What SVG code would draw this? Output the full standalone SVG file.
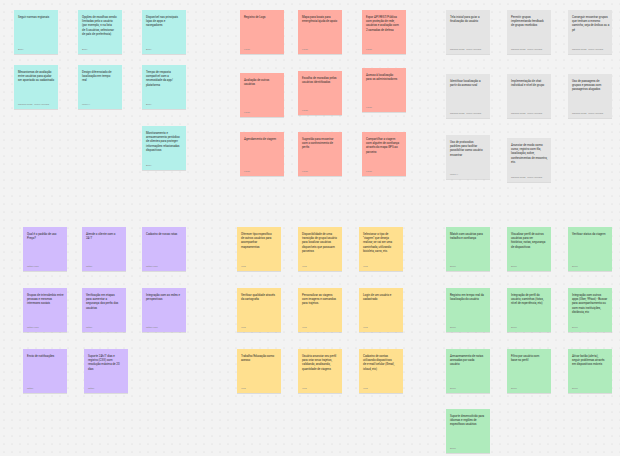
<svg xmlns="http://www.w3.org/2000/svg" width="620" height="456" viewBox="0 0 620 456">
  <style>
    .n { stroke: none; filter: url(#lift); }
    .cy { fill: #b3f0ea; }
    .rd { fill: #ffaca1; }
    .gy { fill: #e4e4e4; }
    .pu { fill: #d1bbfd; }
    .ye { fill: #ffe08f; }
    .gr { fill: #afebbc; }
    .t { font-family: Roboto, "Liberation Sans", sans-serif; font-size: 2.9px; fill: #2a2a2a; }
    .a { font-family: Roboto, "Liberation Sans", sans-serif; font-size: 2.2px; fill: #8a8a8a; }
  </style>
  <defs>
    <pattern id="dots" width="8" height="8" patternUnits="userSpaceOnUse">
      <circle cx="4" cy="4" r="0.6" fill="#d3d3d3"/>
    </pattern>
    <filter id="lift" x="-10%" y="-10%" width="120%" height="130%">
      <feDropShadow dx="0" dy="0.8" stdDeviation="0.6" flood-color="#000" flood-opacity="0.12"/>
    </filter>
  </defs>

  <!-- board -->
  <rect width="620" height="456" fill="#f3f3f3"/>
  <rect width="620" height="456" fill="url(#dots)"/>

  <!-- connectors: none on this board -->
  <g id="connectors"></g>

  <!-- cyan cluster -->
  <g id="cy1" transform="translate(14,10)"><rect class="n cy" width="44" height="44"/>
    <text class="t"><tspan x="4" y="7.5">Seguir normas regionais</tspan></text>
    <text class="a" x="4" y="40">Ana L.</text></g>
  <g id="cy2" transform="translate(78,10)"><rect class="n cy" width="44" height="44"/>
    <text class="t"><tspan x="4" y="7.5">Opções de escolhas sendo</tspan><tspan x="4" y="11.9">limitadas pelo o usuário</tspan><tspan x="4" y="16.3">(por exemplo, n na lista</tspan><tspan x="4" y="20.7">de 5 usuários, selecionar</tspan><tspan x="4" y="25.1">de país de preferência)</tspan></text>
    <text class="a" x="4" y="40">Ana L.</text></g>
  <g id="cy3" transform="translate(142,10)"><rect class="n cy" width="44" height="44"/>
    <text class="t"><tspan x="4" y="7.5">Disponível nas principais</tspan><tspan x="4" y="11.9">lojas de apps e</tspan><tspan x="4" y="16.3">navegadores</tspan></text>
    <text class="a" x="4" y="40">Ana L.</text></g>
  <g id="cy4" transform="translate(14,65)"><rect class="n cy" width="44" height="44"/>
    <text class="t"><tspan x="4" y="7.5">Mecanismos de avaliação</tspan><tspan x="4" y="11.9">entre usuários para ajudar</tspan><tspan x="4" y="16.3">ser apontado ou cadastrado</tspan></text>
    <text class="a" x="4" y="40">Mariana Souza · Pedro Henrique</text></g>
  <g id="cy5" transform="translate(78,65)"><rect class="n cy" width="44" height="44"/>
    <text class="t"><tspan x="4" y="7.5">Design diferenciado de</tspan><tspan x="4" y="11.9">localização em tempo</tspan><tspan x="4" y="16.3">real</tspan></text>
    <text class="a" x="4" y="40">Pedro H.</text></g>
  <g id="cy6" transform="translate(142,65)"><rect class="n cy" width="44" height="44"/>
    <text class="t"><tspan x="4" y="7.5">Tempo de resposta</tspan><tspan x="4" y="11.9">compatível com a</tspan><tspan x="4" y="16.3">necessidade da app/</tspan><tspan x="4" y="20.7">plataforma</tspan></text>
    <text class="a" x="4" y="40">Ana L.</text></g>
  <g id="cy7" transform="translate(142,126)"><rect class="n cy" width="44" height="44"/>
    <text class="t"><tspan x="4" y="7.5">Monitoramento e</tspan><tspan x="4" y="11.9">armazenamento periódico</tspan><tspan x="4" y="16.3">de clientes para proteger</tspan><tspan x="4" y="20.7">informações relacionadas</tspan><tspan x="4" y="25.1">dispositivos</tspan></text>
    <text class="a" x="4" y="40">Ana L.</text></g>

  <!-- red cluster -->
  <g id="rd1" transform="translate(240,10)"><rect class="n rd" width="44" height="44"/>
    <text class="t"><tspan x="4" y="7.5">Registro de Logs</tspan></text>
    <text class="a" x="4" y="40">Lucas</text></g>
  <g id="rd2" transform="translate(298,10)"><rect class="n rd" width="44" height="44"/>
    <text class="t"><tspan x="4" y="7.5">Mapa para locais para</tspan><tspan x="4" y="11.9">emergência/ajuda de apoio</tspan></text>
    <text class="a" x="4" y="40">Lucas</text></g>
  <g id="rd3" transform="translate(362,10)"><rect class="n rd" width="44" height="44"/>
    <text class="t"><tspan x="4" y="7.5">Expor API REST/Pública</tspan><tspan x="4" y="11.9">com proteção de rede,</tspan><tspan x="4" y="16.3">usuários e avaliação com</tspan><tspan x="4" y="20.7">2 camadas de defesa</tspan></text>
    <text class="a" x="4" y="40">Lucas</text></g>
  <g id="rd4" transform="translate(240,73)"><rect class="n rd" width="44" height="44"/>
    <text class="t"><tspan x="4" y="7.5">Avaliação de outros</tspan><tspan x="4" y="11.9">usuários</tspan></text>
    <text class="a" x="4" y="40">Lucas</text></g>
  <g id="rd5" transform="translate(298,71)"><rect class="n rd" width="44" height="44"/>
    <text class="t"><tspan x="4" y="7.5">Escolha de moradias pelos</tspan><tspan x="4" y="11.9">usuários identificados</tspan></text>
    <text class="a" x="4" y="40">Lucas</text></g>
  <g id="rd6" transform="translate(362,68)"><rect class="n rd" width="44" height="44"/>
    <text class="t"><tspan x="4" y="7.5">Acesso à localização</tspan><tspan x="4" y="11.9">para os administradores</tspan></text>
    <text class="a" x="4" y="40">Lucas</text></g>
  <g id="rd7" transform="translate(240,132)"><rect class="n rd" width="44" height="44"/>
    <text class="t"><tspan x="4" y="7.5">Agendamento de viagem</tspan></text>
    <text class="a" x="4" y="40">Lucas</text></g>
  <g id="rd8" transform="translate(298,132)"><rect class="n rd" width="44" height="44"/>
    <text class="t"><tspan x="4" y="7.5">Sugestão para encontrar</tspan><tspan x="4" y="11.9">com o conhecimento de</tspan><tspan x="4" y="16.3">perfis</tspan></text>
    <text class="a" x="4" y="40">Lucas</text></g>
  <g id="rd9" transform="translate(362,132)"><rect class="n rd" width="44" height="44"/>
    <text class="t"><tspan x="4" y="7.5">Compartilhar a viagem</tspan><tspan x="4" y="11.9">com alguém de confiança</tspan><tspan x="4" y="16.3">através do mapa GPS ao</tspan><tspan x="4" y="20.7">parceiro</tspan></text>
    <text class="a" x="4" y="40">Lucas</text></g>

  <!-- gray cluster -->
  <g id="gy1" transform="translate(446,10)"><rect class="n gy" width="44" height="44"/>
    <text class="t"><tspan x="4" y="7.5">Tela inicial para guiar a</tspan><tspan x="4" y="11.9">finalização do usuário</tspan></text>
    <text class="a" x="4" y="40">Mariana Souza · Pedro Henrique</text></g>
  <g id="gy2" transform="translate(507,10)"><rect class="n gy" width="44" height="44"/>
    <text class="t"><tspan x="4" y="7.5">Permitir grupos</tspan><tspan x="4" y="11.9">implementando feedback</tspan><tspan x="4" y="16.3">de grupos recebidos</tspan></text>
    <text class="a" x="4" y="40">Mariana Souza · Pedro Henrique</text></g>
  <g id="gy3" transform="translate(568,10)"><rect class="n gy" width="44" height="44"/>
    <text class="t"><tspan x="4" y="7.5">Conseguir encontrar grupos</tspan><tspan x="4" y="11.9">que tenham o mesmo</tspan><tspan x="4" y="16.3">caminho, seja de ônibus ou a</tspan><tspan x="4" y="20.7">pé</tspan></text>
    <text class="a" x="4" y="40">Mariana Souza · Pedro Henrique</text></g>
  <g id="gy4" transform="translate(446,74)"><rect class="n gy" width="44" height="44"/>
    <text class="t"><tspan x="4" y="7.5">Identificar localização a</tspan><tspan x="4" y="11.9">partir do acesso rural</tspan></text>
    <text class="a" x="4" y="40">Mariana Souza · Pedro Henrique</text></g>
  <g id="gy5" transform="translate(507,74)"><rect class="n gy" width="44" height="44"/>
    <text class="t"><tspan x="4" y="7.5">Implementação de chat</tspan><tspan x="4" y="11.9">individual e nível de grupo</tspan></text>
    <text class="a" x="4" y="40">Mariana Souza · Pedro Henrique</text></g>
  <g id="gy6" transform="translate(568,74)"><rect class="n gy" width="44" height="44"/>
    <text class="t"><tspan x="4" y="7.5">Uso de passagens de</tspan><tspan x="4" y="11.9">grupos e pessoas com</tspan><tspan x="4" y="16.3">passageiros alugados</tspan></text>
    <text class="a" x="4" y="40">Mariana Souza · Pedro Henrique</text></g>
  <g id="gy7" transform="translate(446,135)"><rect class="n gy" width="44" height="44"/>
    <text class="t"><tspan x="4" y="7.5">Uso de protocolos</tspan><tspan x="4" y="11.9">padrões para facilitar</tspan><tspan x="4" y="16.3">possibilitar como usuário</tspan><tspan x="4" y="20.7">encontrar</tspan></text>
    <text class="a" x="4" y="40">Pedro H.</text></g>
  <g id="gy8" transform="translate(507,138)"><rect class="n gy" width="44" height="44"/>
    <text class="t"><tspan x="4" y="7.5">Anunciar de modo como</tspan><tspan x="4" y="11.9">curso, registro com fila,</tspan><tspan x="4" y="16.3">localização, sobre,</tspan><tspan x="4" y="20.7">conhecimentos de encontro,</tspan><tspan x="4" y="25.1">etc.</tspan></text>
    <text class="a" x="4" y="40">Mariana Souza · Pedro Henrique</text></g>

  <!-- purple cluster -->
  <g id="pu1" transform="translate(23,227)"><rect class="n pu" width="44" height="44"/>
    <text class="t"><tspan x="4" y="7.5">Qual é o padrão de uso</tspan><tspan x="4" y="11.9">Preço?</tspan></text>
    <text class="a" x="4" y="40">Rafael Lobo</text></g>
  <g id="pu2" transform="translate(82,227)"><rect class="n pu" width="44" height="44"/>
    <text class="t"><tspan x="4" y="7.5">Atende o cliente com o</tspan><tspan x="4" y="11.9">24/7</tspan></text>
    <text class="a" x="4" y="40">Rafael</text></g>
  <g id="pu3" transform="translate(142,227)"><rect class="n pu" width="44" height="44"/>
    <text class="t"><tspan x="4" y="7.5">Cadastro de novas rotas</tspan></text>
    <text class="a" x="4" y="40">Rafael Lobo</text></g>
  <g id="pu4" transform="translate(23,288)"><rect class="n pu" width="44" height="44"/>
    <text class="t"><tspan x="4" y="7.5">Grupos de intercâmbio entre</tspan><tspan x="4" y="11.9">pessoas e mesmos</tspan><tspan x="4" y="16.3">interesses sociais</tspan></text>
    <text class="a" x="4" y="40">Rafael Lobo</text></g>
  <g id="pu5" transform="translate(82,288)"><rect class="n pu" width="44" height="44"/>
    <text class="t"><tspan x="4" y="7.5">Verificação em etapas</tspan><tspan x="4" y="11.9">para aumentar a</tspan><tspan x="4" y="16.3">segurança dos perfis dos</tspan><tspan x="4" y="20.7">usuários</tspan></text>
    <text class="a" x="4" y="40">Rafael</text></g>
  <g id="pu6" transform="translate(142,288)"><rect class="n pu" width="44" height="44"/>
    <text class="t"><tspan x="4" y="7.5">Integração com as redes e</tspan><tspan x="4" y="11.9">perspectivas</tspan></text>
    <text class="a" x="4" y="40">Rafael Lobo</text></g>
  <g id="pu7" transform="translate(23,349)"><rect class="n pu" width="44" height="44"/>
    <text class="t"><tspan x="4" y="7.5">Envio de notificações</tspan></text>
    <text class="a" x="4" y="40">Rafael</text></g>
  <g id="pu8" transform="translate(84,349)"><rect class="n pu" width="44" height="44"/>
    <text class="t"><tspan x="4" y="7.5">Suporte 24h/7 dias e</tspan><tspan x="4" y="11.9">registro (CSV) com</tspan><tspan x="4" y="16.3">resolução máxima de 20</tspan><tspan x="4" y="20.7">dias</tspan></text>
    <text class="a" x="4" y="40">Rafael</text></g>

  <!-- yellow cluster -->
  <g id="ye1" transform="translate(237,227)"><rect class="n ye" width="44" height="44"/>
    <text class="t"><tspan x="4" y="7.5">Oferecer tipo específico</tspan><tspan x="4" y="11.9">de outros usuários para</tspan><tspan x="4" y="16.3">acompanhar</tspan><tspan x="4" y="20.7">mapeamentos</tspan></text>
    <text class="a" x="4" y="40">Júlia</text></g>
  <g id="ye2" transform="translate(298,227)"><rect class="n ye" width="44" height="44"/>
    <text class="t"><tspan x="4" y="7.5">Disponibilidade de uma</tspan><tspan x="4" y="11.9">transição de grupo/usuário</tspan><tspan x="4" y="16.3">para localizar usuários</tspan><tspan x="4" y="20.7">disponíveis que possuam</tspan><tspan x="4" y="25.1">parceiros</tspan></text>
    <text class="a" x="4" y="40">Júlia</text></g>
  <g id="ye3" transform="translate(359,227)"><rect class="n ye" width="44" height="44"/>
    <text class="t"><tspan x="4" y="7.5">Selecionar o tipo de</tspan><tspan x="4" y="11.9">"viagem" que deseja</tspan><tspan x="4" y="16.3">realizar, se vai ser uma</tspan><tspan x="4" y="20.7">caminhada, utilizando</tspan><tspan x="4" y="25.1">bicicleta, carro, etc.</tspan></text>
    <text class="a" x="4" y="40">Júlia</text></g>
  <g id="ye4" transform="translate(237,288)"><rect class="n ye" width="44" height="44"/>
    <text class="t"><tspan x="4" y="7.5">Verificar qualidade através</tspan><tspan x="4" y="11.9">da cartografia</tspan></text>
    <text class="a" x="4" y="40">Júlia</text></g>
  <g id="ye5" transform="translate(298,288)"><rect class="n ye" width="44" height="44"/>
    <text class="t"><tspan x="4" y="7.5">Personalizar as viagens</tspan><tspan x="4" y="11.9">com imagens e comandos</tspan><tspan x="4" y="16.3">para trajetos.</tspan></text>
    <text class="a" x="4" y="40">Júlia</text></g>
  <g id="ye6" transform="translate(359,288)"><rect class="n ye" width="44" height="44"/>
    <text class="t"><tspan x="4" y="7.5">Login de um usuário e</tspan><tspan x="4" y="11.9">cadastrado</tspan></text>
    <text class="a" x="4" y="40">Júlia</text></g>
  <g id="ye7" transform="translate(237,349)"><rect class="n ye" width="44" height="44"/>
    <text class="t"><tspan x="4" y="7.5">Trabalho/Educação como</tspan><tspan x="4" y="11.9">acesso</tspan></text>
    <text class="a" x="4" y="40">Júlia</text></g>
  <g id="ye8" transform="translate(298,349)"><rect class="n ye" width="44" height="44"/>
    <text class="t"><tspan x="4" y="7.5">Usuário anunciar seu perfil</tspan><tspan x="4" y="11.9">para criar seus trajetos,</tspan><tspan x="4" y="16.3">validando, analisando,</tspan><tspan x="4" y="20.7">quantidade de viagens</tspan></text>
    <text class="a" x="4" y="40">Júlia</text></g>
  <g id="ye9" transform="translate(359,349)"><rect class="n ye" width="44" height="44"/>
    <text class="t"><tspan x="4" y="7.5">Cadastro de contas</tspan><tspan x="4" y="11.9">utilizando dispositivos</tspan><tspan x="4" y="16.3">de e-mail/celular (Gmail,</tspan><tspan x="4" y="20.7">icloud, etc)</tspan></text>
    <text class="a" x="4" y="40">Júlia</text></g>

  <!-- green cluster -->
  <g id="gr1" transform="translate(446,227)"><rect class="n gr" width="44" height="44"/>
    <text class="t"><tspan x="4" y="7.5">Match com usuários para</tspan><tspan x="4" y="11.9">trabalho e confiança</tspan></text>
    <text class="a" x="4" y="40">Bruno</text></g>
  <g id="gr2" transform="translate(507,227)"><rect class="n gr" width="44" height="44"/>
    <text class="t"><tspan x="4" y="7.5">Visualizar perfil de outros</tspan><tspan x="4" y="11.9">usuários para ver</tspan><tspan x="4" y="16.3">histórico, notas, segurança</tspan><tspan x="4" y="20.7">de dispositivos</tspan></text>
    <text class="a" x="4" y="40">Bruno</text></g>
  <g id="gr3" transform="translate(568,227)"><rect class="n gr" width="44" height="44"/>
    <text class="t"><tspan x="4" y="7.5">Verificar status da viagem</tspan></text>
    <text class="a" x="4" y="40">Bruno</text></g>
  <g id="gr4" transform="translate(446,288)"><rect class="n gr" width="44" height="44"/>
    <text class="t"><tspan x="4" y="7.5">Registro em tempo real da</tspan><tspan x="4" y="11.9">localização do usuário</tspan></text>
    <text class="a" x="4" y="40">Bruno</text></g>
  <g id="gr5" transform="translate(507,288)"><rect class="n gr" width="44" height="44"/>
    <text class="t"><tspan x="4" y="7.5">Integração de perfil do</tspan><tspan x="4" y="11.9">usuário, caminhos (fotos,</tspan><tspan x="4" y="16.3">nível de experiência, etc)</tspan></text>
    <text class="a" x="4" y="40">Bruno</text></g>
  <g id="gr6" transform="translate(568,288)"><rect class="n gr" width="44" height="44"/>
    <text class="t"><tspan x="4" y="7.5">Integração com outros</tspan><tspan x="4" y="11.9">apps (Uber, 99taxi) - Buscar</tspan><tspan x="4" y="16.3">para acompanhamento ou</tspan><tspan x="4" y="20.7">com mais instituições,</tspan><tspan x="4" y="25.1">distância, etc</tspan></text>
    <text class="a" x="4" y="40">Bruno</text></g>
  <g id="gr7" transform="translate(446,349)"><rect class="n gr" width="44" height="44"/>
    <text class="t"><tspan x="4" y="7.5">Armazenamento de notas</tspan><tspan x="4" y="11.9">anexadas por cada</tspan><tspan x="4" y="16.3">usuário</tspan></text>
    <text class="a" x="4" y="40">Bruno</text></g>
  <g id="gr8" transform="translate(507,349)"><rect class="n gr" width="44" height="44"/>
    <text class="t"><tspan x="4" y="7.5">Filtro por usuário com</tspan><tspan x="4" y="11.9">base no perfil</tspan></text>
    <text class="a" x="4" y="40">Bruno</text></g>
  <g id="gr9" transform="translate(568,349)"><rect class="n gr" width="44" height="44"/>
    <text class="t"><tspan x="4" y="7.5">Ativar botão (alerta),</tspan><tspan x="4" y="11.9">seguir problemas através</tspan><tspan x="4" y="16.3">em dispositivos móveis</tspan></text>
    <text class="a" x="4" y="40">Bruno</text></g>
  <g id="gr10" transform="translate(446,409)"><rect class="n gr" width="44" height="44"/>
    <text class="t"><tspan x="4" y="7.5">Suporte desenvolvido para</tspan><tspan x="4" y="11.9">idiomas e regiões de</tspan><tspan x="4" y="16.3">específicos usuários</tspan></text>
    <text class="a" x="4" y="40">Bruno</text></g>
</svg>
